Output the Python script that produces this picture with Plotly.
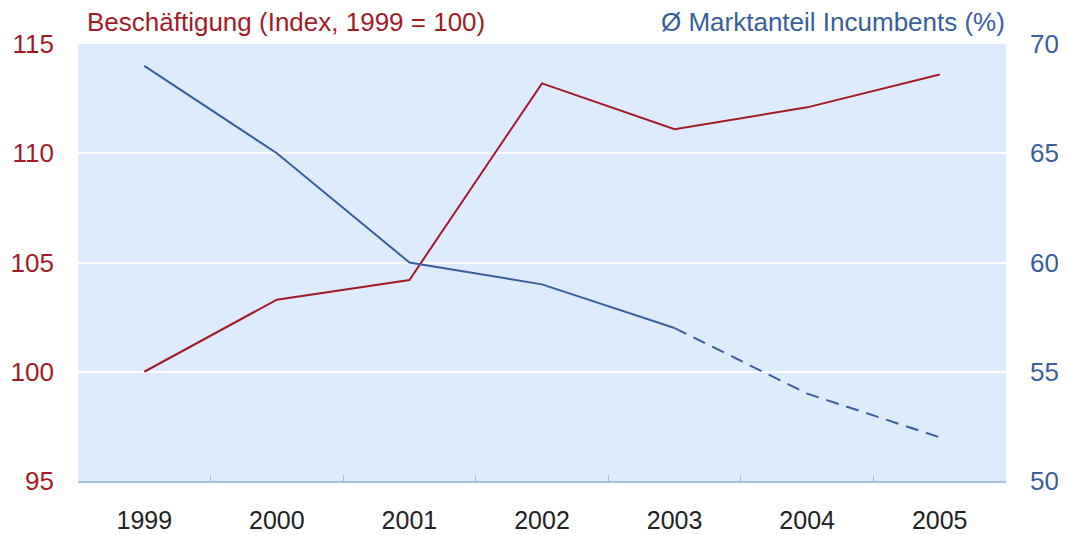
import plotly.graph_objects as go

years = ["1999", "2000", "2001", "2002", "2003", "2004", "2005"]
beschaeftigung = [100.0, 103.3, 104.2, 113.2, 111.1, 112.1, 113.6]
marktanteil = [69.0, 65.0, 60.0, 59.0, 57.0, 54.0, 52.0]
solid_end = 5  # solid part 1999-2003
dash_start = 4  # 2003 onward dashed

RED = "#A31B27"
BLUE = "#3A5E9E"
FONT = "Liberation Sans, Arial, sans-serif"

fig = go.Figure()
fig.add_trace(go.Scatter(x=years, y=beschaeftigung, mode="lines",
                         line=dict(color=RED, width=2), yaxis="y", showlegend=False))
fig.add_trace(go.Scatter(x=years[:solid_end], y=marktanteil[:solid_end], mode="lines",
                         line=dict(color=BLUE, width=2), yaxis="y2", showlegend=False))
fig.add_trace(go.Scatter(x=years[dash_start:], y=marktanteil[dash_start:], mode="lines",
                         line=dict(color=BLUE, width=2, dash="13px,8px"), yaxis="y2", showlegend=False))

fig.update_layout(
    width=1058, height=527,
    margin=dict(l=70, r=60, t=36, b=54),
    paper_bgcolor="white",
    plot_bgcolor="#DDEBFC",
    font=dict(family=FONT, size=26),
    xaxis=dict(
        type="category", tickson="boundaries", ticks="inside", ticklen=6,
        tickcolor="#A9C1DA", showline=True, linecolor="#A9C1DA", linewidth=1.5,
        showgrid=False, tickfont=dict(color="#222222", size=25),
        ticklabelstandoff=16, range=[-0.5, 6.5], automargin=False,
    ),
    yaxis=dict(
        range=[95, 115], dtick=5, tick0=95, showgrid=True, gridcolor="white", gridwidth=2,
        zeroline=False, tickfont=dict(color=RED, size=26), ticklabelstandoff=23,
        showline=False, automargin=False,
    ),
    yaxis2=dict(
        range=[50, 70], dtick=5, tick0=50, overlaying="y", side="right", showgrid=False,
        zeroline=False, tickfont=dict(color=BLUE, size=26), ticklabelstandoff=23,
        automargin=False,
    ),
    annotations=[
        dict(text="Beschäftigung (Index, 1999 = 100)", xref="paper", yref="paper",
             x=0.0, y=1.0, xanchor="left", yanchor="middle", yshift=22, xshift=7,
             showarrow=False, font=dict(color=RED, size=26, family=FONT)),
        dict(text="Ø Marktanteil Incumbents (%)", xref="paper", yref="paper",
             x=1.0, y=1.0, xanchor="right", yanchor="middle", yshift=22, xshift=1,
             showarrow=False, font=dict(color=BLUE, size=26, family=FONT)),
    ],
)

fig.write_html("out.html")
